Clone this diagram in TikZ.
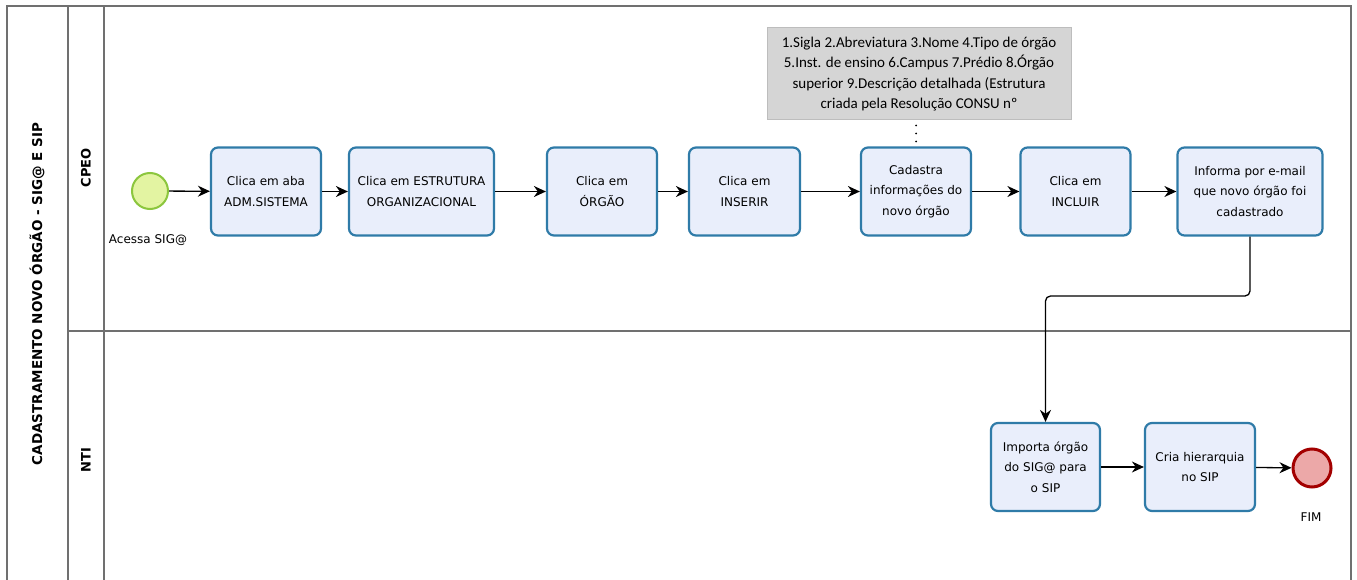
\documentclass[tikz,border=0pt]{standalone}
\usepackage{fontspec}
\setmainfont{DejaVu Sans}
\newfontfamily\notefont{Carlito}
\usetikzlibrary{arrows.meta,positioning,calc}
\definecolor{boxfill}{HTML}{E9EEFB}
\definecolor{boxline}{HTML}{2F7BA8}
\definecolor{startfill}{HTML}{E3F4A2}
\definecolor{startline}{HTML}{8CC63E}
\definecolor{endfill}{HTML}{ECA8A8}
\definecolor{endline}{HTML}{A30000}
\definecolor{notefill}{HTML}{D5D5D5}
\definecolor{noteline}{HTML}{BDBDBD}
\definecolor{frameline}{HTML}{707070}
\tikzset{
  task/.style={draw=boxline, line width=2.2pt, fill=boxfill, rounded corners=7pt,
    minimum height=88pt, align=center, inner sep=2pt,
    font=\fontsize{12}{20.5}\selectfont},
  startev/.style={circle, draw=startline, line width=2pt, fill=startfill, minimum size=36pt, inner sep=0pt},
  endev/.style={circle, draw=endline, line width=3pt, fill=endfill, minimum size=38pt, inner sep=0pt},
  flow/.style={draw=black, line width=1.3pt, -{Stealth[length=12pt,width=11pt]}},
  frame/.style={draw=frameline, line width=1.3pt},
  lbl/.style={font=\fontsize{12}{14}\selectfont, inner sep=0pt},
  lane/.style={font=\bfseries\fontsize{13}{15}\selectfont, rotate=90, inner sep=0pt},
  assoc/.style={draw=black, line width=2pt, line cap=round, dash pattern=on 0pt off 8pt},
}
\begin{document}
\begin{tikzpicture}[x=1pt,y=-1pt]
\useasboundingbox[fill=white] (0,0) rectangle (1357,580);
% frame
\draw[frame] (7,585) -- (7,6) -- (1351,6) -- (1351,585);
\draw[frame] (68,6) -- (68,585);
\draw[frame] (104,6) -- (104,585);
\draw[frame] (68,331) -- (1351,331);
\node[lane, font=\bfseries\fontsize{13.5}{15}\selectfont] (title) at (37,294) {CADASTRAMENTO NOVO ÓRGÃO - SIG@ E SIP};
\node[lane] (cpeo) at (86,168) {CPEO};
\node[lane] (nti) at (86,460) {NTI};
% annotation
\node[draw=noteline, line width=1pt, fill=notefill, minimum width=304pt, minimum height=92pt,
  align=center, inner sep=2pt, font=\notefont\fontsize{15}{20.5}\selectfont] (note) at (919,74)
  {1.Sigla  2.Abreviatura 3.Nome  4.Tipo de órgão\\
   5.Inst. de ensino  6.Campus  7.Prédio  8.Órgão\\
   superior  9.Descrição detalhada (Estrutura\\
   criada pela Resolução CONSU nº};
% CPEO lane
\node[startev] (start) at (150,191) {};
\node[lbl] (startlbl) at (148,240) {Acessa SIG@};
\node[task, minimum width=110pt] (b1) at (266,191.5) {Clica em aba\\ADM.SISTEMA};
\node[task, minimum width=145pt] (b2) at (421.5,191.5) {Clica em ESTRUTURA\\ORGANIZACIONAL};
\node[task, minimum width=110pt] (b3) at (602,191.5) {Clica em\\ÓRGÃO};
\node[task, minimum width=111pt] (b4) at (744.5,191.5) {Clica em\\INSERIR};
\node[task, minimum width=110pt] (b5) at (916,191.5) {Cadastra\\informações do\\novo órgão};
\node[task, minimum width=110pt] (b6) at (1075.5,191.5) {Clica em\\INCLUIR};
\node[task, minimum width=145pt] (b7) at (1250,191.5) {Informa por e-mail\\que novo órgão foi\\cadastrado};
% NTI lane
\node[task, minimum width=109pt] (b8) at (1045.5,467) {Importa órgão\\do SIG@ para\\o SIP};
\node[task, minimum width=110pt] (b9) at (1200,467) {Cria hierarquia\\no SIP};
\node[endev] (end) at (1312,468) {};
\node[lbl] (endlbl) at (1311,517) {FIM};
% connectors
\draw[assoc] ([yshift=-5pt]note.south -| b5.north) -- (b5.north);
\draw[flow] (start) -- (b1);
\draw[flow] (b1) -- (b2);
\draw[flow] (b2) -- (b3);
\draw[flow] (b3) -- (b4);
\draw[flow] (b4) -- (b5);
\draw[flow] (b5) -- (b6);
\draw[flow] (b6) -- (b7);
\coordinate (bend) at (1045.5,296);
\draw[flow, rounded corners=5pt] (b7.south) |- (bend) -- (b8.north);
\draw[flow] (b8) -- (b9);
\draw[flow] (b9) -- (end);
\end{tikzpicture}
\end{document}
